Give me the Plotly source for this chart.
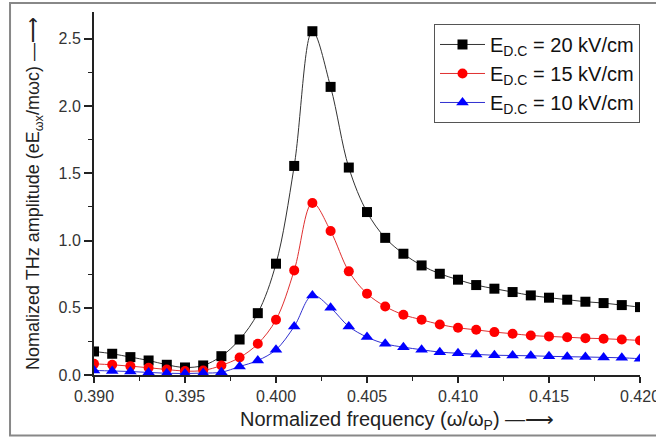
import plotly.graph_objects as go

freq = [0.390, 0.391, 0.392, 0.393, 0.394, 0.395, 0.396, 0.397, 0.398, 0.399,
        0.400, 0.401, 0.402, 0.403, 0.404, 0.405, 0.406, 0.407, 0.408, 0.409,
        0.410, 0.411, 0.412, 0.413, 0.414, 0.415, 0.416, 0.417, 0.418, 0.419, 0.420]

amp_20 = [0.175, 0.158, 0.133, 0.108, 0.076, 0.056, 0.071, 0.140, 0.264, 0.460,
          0.828, 1.555, 2.557, 2.143, 1.543, 1.212, 1.020, 0.902, 0.815, 0.753,
          0.709, 0.669, 0.642, 0.617, 0.592, 0.575, 0.560, 0.545, 0.535, 0.520, 0.505]

amp_15 = [0.083, 0.076, 0.066, 0.054, 0.041, 0.029, 0.034, 0.071, 0.130, 0.232,
          0.411, 0.778, 1.279, 1.071, 0.771, 0.605, 0.510, 0.448, 0.411, 0.376,
          0.351, 0.336, 0.319, 0.307, 0.294, 0.287, 0.281, 0.274, 0.270, 0.264, 0.257]

amp_10 = [0.034, 0.030, 0.026, 0.019, 0.013, 0.011, 0.014, 0.021, 0.063, 0.108,
          0.188, 0.361, 0.592, 0.500, 0.361, 0.282, 0.232, 0.207, 0.188, 0.170,
          0.162, 0.153, 0.147, 0.145, 0.143, 0.139, 0.136, 0.134, 0.131, 0.128, 0.121]

series_names = ["E<sub>D.C</sub> = 20 kV/cm", "E<sub>D.C</sub> = 15 kV/cm", "E<sub>D.C</sub> = 10 kV/cm"]
x_ticks = [0.390, 0.395, 0.400, 0.405, 0.410, 0.415, 0.420]
y_ticks = [0.0, 0.5, 1.0, 1.5, 2.0, 2.5]

FONT = "Liberation Sans, Arial, sans-serif"

fig = go.Figure()
styles = [
    (amp_20, "#000000", "#333333", "square", 10),
    (amp_15, "#ff0000", "#e03030", "circle", 10),
    (amp_10, "#0000ff", "#3030d0", "triangle-up", 11),
]
for (vals, mcol, lcol, sym, sz), name in zip(styles, series_names):
    fig.add_trace(go.Scatter(
        x=freq, y=vals, name=name, mode="lines+markers",
        line=dict(color=lcol, width=1, shape="spline", smoothing=1.0),
        marker=dict(color=mcol, symbol=sym, size=sz, line=dict(width=0)),
    ))

fig.update_layout(
    width=656, height=437,
    margin=dict(l=94, r=16, t=12, b=62, autoexpand=False),
    paper_bgcolor="white", plot_bgcolor="white",
    font=dict(family=FONT, color="#222"),
    showlegend=True,
    legend=dict(
        x=1.0, xanchor="right", y=0.967, yanchor="top",
        bgcolor="white", bordercolor="#555", borderwidth=1,
        font=dict(size=20, color="#111", family=FONT),
        tracegroupgap=0, itemwidth=45,
    ),
    xaxis=dict(
        range=[0.390, 0.420], tickvals=x_ticks, tickformat=".3f",
        showgrid=False, zeroline=False, showline=True, linecolor="#222", linewidth=2,
        ticks="outside", ticklen=6, tickwidth=1.5, tickcolor="#222",
        tickfont=dict(size=16, color="#333"), ticklabeloverflow="allow",
        minor=dict(dtick=0.0025, ticks="outside", ticklen=4, tickcolor="#222", tickwidth=1.2, showgrid=False),
    ),
    yaxis=dict(
        range=[0, 2.70], tickvals=y_ticks, tickformat=".1f",
        showgrid=False, zeroline=False, showline=True, linecolor="#222", linewidth=2,
        ticks="outside", ticklen=8, tickwidth=1.5, tickcolor="#222",
        tickfont=dict(size=16, color="#333"),
        minor=dict(dtick=0.25, ticks="outside", ticklen=4, tickcolor="#222", tickwidth=1.2, showgrid=False),
        title=dict(text="Nomalized THz amplitude (eE<sub>ωx</sub>/mωc) —⟶",
                   font=dict(size=18, color="#222", family=FONT), standoff=14),
    ),
)

fig.add_annotation(
    text="Normalized frequency (ω/ω<sub>P</sub>) —⟶",
    xref="paper", yref="paper", x=0.555, y=-0.125,
    xanchor="center", yanchor="middle", showarrow=False,
    font=dict(size=20, color="#222", family=FONT),
)

fig.add_shape(type="rect", xref="paper", yref="paper",
              x0=-0.1538, x1=1.045, y0=-0.167, y1=1.0248,
              line=dict(color="#888", width=2), fillcolor="rgba(0,0,0,0)", layer="below")

fig.write_html("out.html", post_script="document.body.style.margin='0';",
               config={"displayModeBar": False})
